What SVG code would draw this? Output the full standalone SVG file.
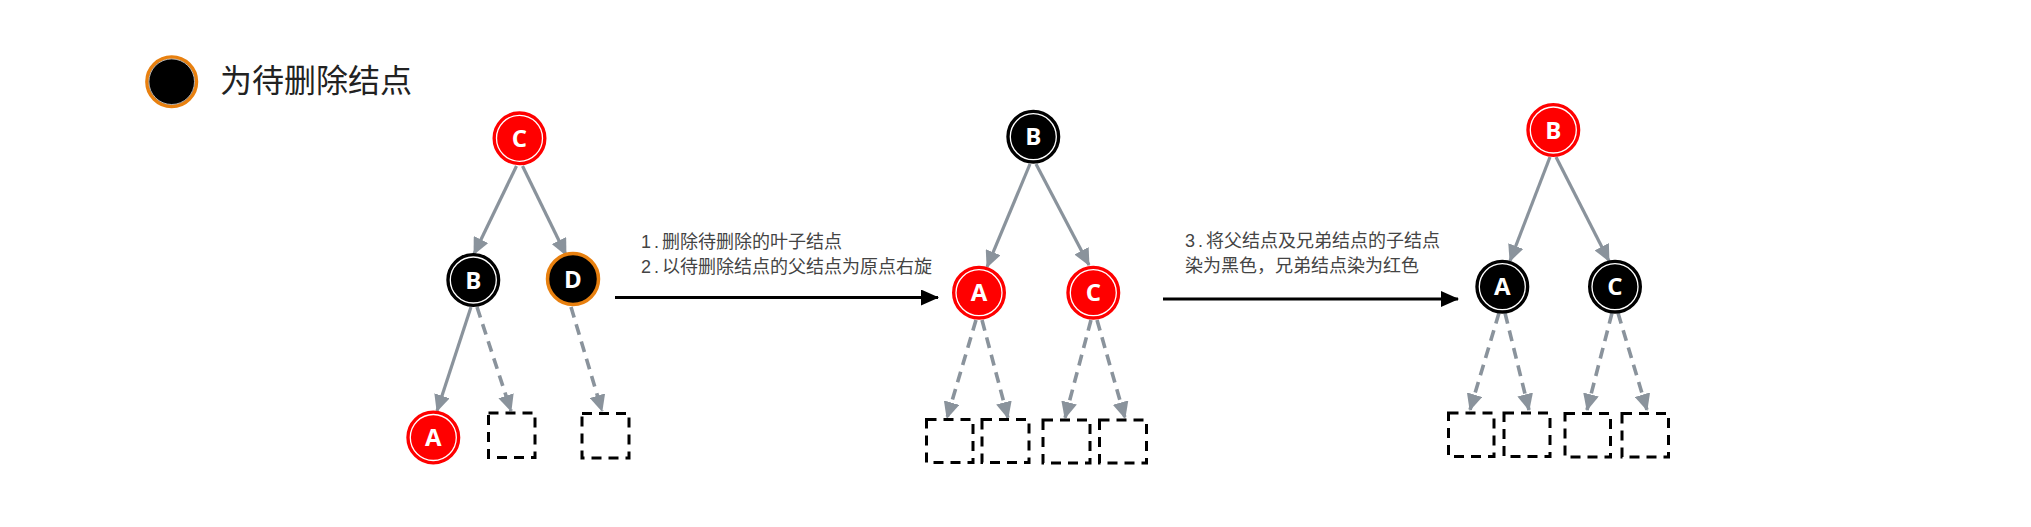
<svg xmlns="http://www.w3.org/2000/svg" width="2031" height="527" viewBox="0 0 2031 527">
<defs>
<marker id="ga" markerUnits="userSpaceOnUse" markerWidth="18" markerHeight="16" refX="16" refY="8" orient="auto"><path d="M0,0 L17,8 L0,16 z" fill="#8a939c"/></marker>
<marker id="ba" markerUnits="userSpaceOnUse" markerWidth="18" markerHeight="16" refX="17" refY="8" orient="auto"><path d="M0,0 L18,8 L0,16 z" fill="#000"/></marker>
</defs>
<style>
.red circle.o{fill:#ff0000;stroke:#ff0000;stroke-width:2}
.blk circle.o{fill:#000;stroke:#000;stroke-width:2}
circle.i{fill:none;stroke:#fff;stroke-width:1.3}
.del circle.o{fill:#000;stroke:#e8800f;stroke-width:3.5}
text.n{font-family:"Open Sans","DejaVu Sans",sans-serif;font-weight:700;font-size:24px;fill:#fff;text-anchor:middle}
.solid{stroke:#8a939c;stroke-width:3.2;fill:none;marker-end:url(#ga)}
.dash{stroke:#8a939c;stroke-width:3.6;fill:none;stroke-dasharray:11 7;marker-end:url(#ga)}
.black{stroke:#000;stroke-width:3;fill:none;marker-end:url(#ba)}
rect.leaf{fill:none;stroke:#000;stroke-width:3;stroke-dasharray:10 7}
text.d{font-family:"Liberation Sans","Noto Sans CJK SC",sans-serif;font-size:18px;fill:#444}
tspan.num{letter-spacing:3px}
text.lg{font-family:"Liberation Sans","Noto Sans CJK SC",sans-serif;font-size:32px;fill:#222}
</style>
<rect width="2031" height="527" fill="#fff"/>

<g id="legend">
<g class="del"><circle class="o" cx="171.7" cy="81.7" r="24.8"/></g>
<circle cx="171.7" cy="81.7" r="22.8" fill="none" stroke="#ddd" stroke-width="0.8"/>
<text class="lg" x="220" y="92">为待删除结点</text>
</g>

<g id="connectors">
<!-- tree 1 -->
<line class="solid" x1="516.5" y1="166" x2="474" y2="254"/>
<line class="solid" x1="522.5" y1="166" x2="566" y2="255"/>
<line class="solid" x1="471" y1="307" x2="437" y2="411"/>
<line class="dash" x1="477" y1="307" x2="511" y2="411"/>
<line class="dash" x1="571" y1="307" x2="602" y2="411"/>
<!-- transition arrows -->
<line class="black" x1="615" y1="297.5" x2="938" y2="297.5"/>
<line class="black" x1="1163" y1="299" x2="1458" y2="299"/>
<!-- tree 2 -->
<line class="solid" x1="1030" y1="164" x2="987" y2="267"/>
<line class="solid" x1="1036" y1="164" x2="1089" y2="265"/>
<line class="dash" x1="976" y1="320" x2="947" y2="418"/>
<line class="dash" x1="982" y1="320" x2="1008" y2="418"/>
<line class="dash" x1="1091" y1="320" x2="1065" y2="418"/>
<line class="dash" x1="1097" y1="320" x2="1125" y2="418"/>
<!-- tree 3 -->
<line class="solid" x1="1550" y1="157" x2="1510" y2="261"/>
<line class="solid" x1="1556" y1="157" x2="1609" y2="261"/>
<line class="dash" x1="1499" y1="313" x2="1470" y2="410"/>
<line class="dash" x1="1505" y1="313" x2="1529" y2="410"/>
<line class="dash" x1="1612" y1="313" x2="1587" y2="410"/>
<line class="dash" x1="1618" y1="313" x2="1647" y2="410"/>
</g>

<g id="labels">
<text class="d" x="641" y="248"><tspan class="num">1.</tspan>删除待删除的叶子结点</text>
<text class="d" x="641" y="273"><tspan class="num">2.</tspan>以待删除结点的父结点为原点右旋</text>
<text class="d" x="1185" y="247"><tspan class="num">3.</tspan>将父结点及兄弟结点的子结点</text>
<text class="d" x="1185" y="272">染为黑色，兄弟结点染为红色</text>
</g>

<!-- tree 1 nodes -->
<g id="t1-C" class="red"><circle class="o" cx="519.5" cy="138.3" r="26"/><circle class="i" cx="519.5" cy="138.3" r="23"/><text class="n" x="519.5" y="146.8">C</text></g>
<g id="t1-B" class="blk"><circle class="o" cx="473.3" cy="280" r="26"/><circle class="i" cx="473.3" cy="280" r="23"/><text class="n" x="473.3" y="288.5">B</text></g>
<g id="t1-D" class="del"><circle class="o" cx="573" cy="279" r="25.5"/><text class="n" x="573" y="287.5">D</text></g>
<g id="t1-A" class="red"><circle class="o" cx="433.3" cy="437.5" r="26"/><circle class="i" cx="433.3" cy="437.5" r="23"/><text class="n" x="433.3" y="446">A</text></g>
<g id="t1-L1"><rect class="leaf" x="488.5" y="413" width="46.5" height="44.5"/></g>
<g id="t1-L2"><rect class="leaf" x="582" y="413.5" width="47" height="44.5"/></g>

<!-- tree 2 nodes -->
<g id="t2-B" class="blk"><circle class="o" cx="1033.3" cy="136.7" r="26"/><circle class="i" cx="1033.3" cy="136.7" r="23"/><text class="n" x="1033.3" y="145.2">B</text></g>
<g id="t2-A" class="red"><circle class="o" cx="979" cy="292.7" r="26"/><circle class="i" cx="979" cy="292.7" r="23"/><text class="n" x="979" y="301.2">A</text></g>
<g id="t2-C" class="red"><circle class="o" cx="1093.3" cy="292.7" r="26"/><circle class="i" cx="1093.3" cy="292.7" r="23"/><text class="n" x="1093.3" y="301.2">C</text></g>
<g id="t2-L1"><rect class="leaf" x="926.5" y="419.5" width="46.5" height="43"/></g>
<g id="t2-L2"><rect class="leaf" x="982" y="419.5" width="47" height="43"/></g>
<g id="t2-L3"><rect class="leaf" x="1043" y="420" width="47" height="43"/></g>
<g id="t2-L4"><rect class="leaf" x="1099.5" y="420" width="47" height="43"/></g>

<!-- tree 3 nodes -->
<g id="t3-B" class="red"><circle class="o" cx="1553.3" cy="130" r="26"/><circle class="i" cx="1553.3" cy="130" r="23"/><text class="n" x="1553.3" y="138.5">B</text></g>
<g id="t3-A" class="blk"><circle class="o" cx="1502.3" cy="286.7" r="26"/><circle class="i" cx="1502.3" cy="286.7" r="23"/><text class="n" x="1502.3" y="295.2">A</text></g>
<g id="t3-C" class="blk"><circle class="o" cx="1615" cy="286.7" r="26"/><circle class="i" cx="1615" cy="286.7" r="23"/><text class="n" x="1615" y="295.2">C</text></g>
<g id="t3-L1"><rect class="leaf" x="1448.5" y="413" width="45.5" height="43.5"/></g>
<g id="t3-L2"><rect class="leaf" x="1504" y="413" width="46" height="43.5"/></g>
<g id="t3-L3"><rect class="leaf" x="1565" y="413.5" width="45.5" height="43.5"/></g>
<g id="t3-L4"><rect class="leaf" x="1622" y="413.5" width="46.5" height="43.5"/></g>
</svg>
